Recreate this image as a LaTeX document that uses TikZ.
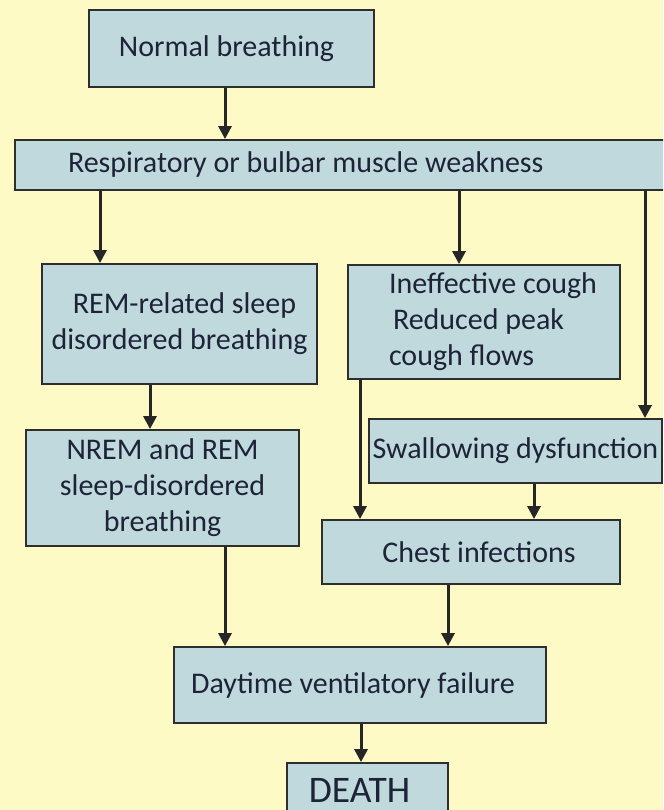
\documentclass[tikz,border=0pt]{standalone}
\usepackage{fontspec}
\setmainfont{Carlito}
\usetikzlibrary{arrows.meta}
\definecolor{paper}{HTML}{FEFAC6}
\definecolor{boxfill}{HTML}{BFD9DD}
\definecolor{boxline}{HTML}{2E2E2E}
\definecolor{ink}{HTML}{1E2338}
\newcommand{\flushtext}[2]{\makebox[#1][l]{#2}}
\tikzset{
    every picture/.style={line join=miter},
    stagebox/.style={draw=boxline,fill=boxfill,line width=1.8pt,inner sep=0pt,
      text=ink,font=\fontsize{30}{36}\selectfont,align=center},
    flowarrow/.style={-{Triangle[length=13pt,width=13pt]},draw=black!85,
      line width=3pt}
}
\begin{document}
\begin{tikzpicture}[x=1pt,y=-1pt]
  \useasboundingbox (0,0) rectangle (663,810);
  \fill[paper] (0,0) rectangle (663,810);
  \clip (0,0) rectangle (663,810);
  \node[stagebox,minimum width=285,minimum height=77] (normal) at (231.5,48.5) {Normal breathing\hspace{10pt}};
  \node[stagebox,minimum width=655,minimum height=50,inner xsep=53] (weak) at (342.5,165) {\flushtext{549pt}{Respiratory or bulbar muscle weakness}};
  \node[stagebox,minimum width=275,minimum height=120] (rem) at (179.5,324) {\hspace{10pt}REM-related sleep\\disordered breathing\hspace{14pt}};
  \node[stagebox,minimum width=272,minimum height=114] (cough) at (484,322)
    {\flushtext{190pt}{Ineffective cough}\\\flushtext{190pt}{\hspace{4pt}Reduced peak}\\\flushtext{190pt}{cough flows}};
  \node[stagebox,minimum width=293,minimum height=64] (swallow) at (515.5,451) {Swallowing dysfunction};
  \node[stagebox,minimum width=273,minimum height=116] (nrem) at (162.5,488) {NREM and REM\\sleep-disordered\\breathing};
  \node[stagebox,minimum width=298,minimum height=64] (chest) at (471,552) {\hspace{16pt}Chest infections};
  \node[stagebox,minimum width=372,minimum height=76] (day) at (360,685) {Daytime ventilatory failure\hspace{14pt}};
  \node[stagebox,minimum width=161,minimum height=54,font=\fontsize{37.5}{40}\selectfont] (death) at (367.5,790) {DEATH\hspace{16pt}};
  \draw[flowarrow] ([xshift=-6.5]normal.south) -- ([xshift=-6.5]normal.south |- weak.north);
  \draw[flowarrow] ([xshift=-79.5]rem.north |- weak.south) -- ([xshift=-79.5]rem.north);
  \draw[flowarrow] ([xshift=-25]cough.north |- weak.south) -- ([xshift=-25]cough.north);
  \draw[flowarrow] ([xshift=129.5]swallow.north |- weak.south) -- ([xshift=129.5]swallow.north);
  \draw[flowarrow] ([xshift=-29.5]rem.south) -- ([xshift=-29.5]rem.south |- nrem.north);
  \draw[flowarrow] ([xshift=-124]cough.south) -- ([xshift=-124]cough.south |- chest.north);
  \draw[flowarrow] ([xshift=63]chest.north |- swallow.south) -- ([xshift=63]chest.north);
  \draw[flowarrow] ([xshift=-135]day.north |- nrem.south) -- ([xshift=-135]day.north);
  \draw[flowarrow] ([xshift=-23]chest.south) -- ([xshift=-23]chest.south |- day.north);
  \draw[flowarrow] ([xshift=1]day.south) -- ([xshift=1]day.south |- death.north);
\end{tikzpicture}
\end{document}
